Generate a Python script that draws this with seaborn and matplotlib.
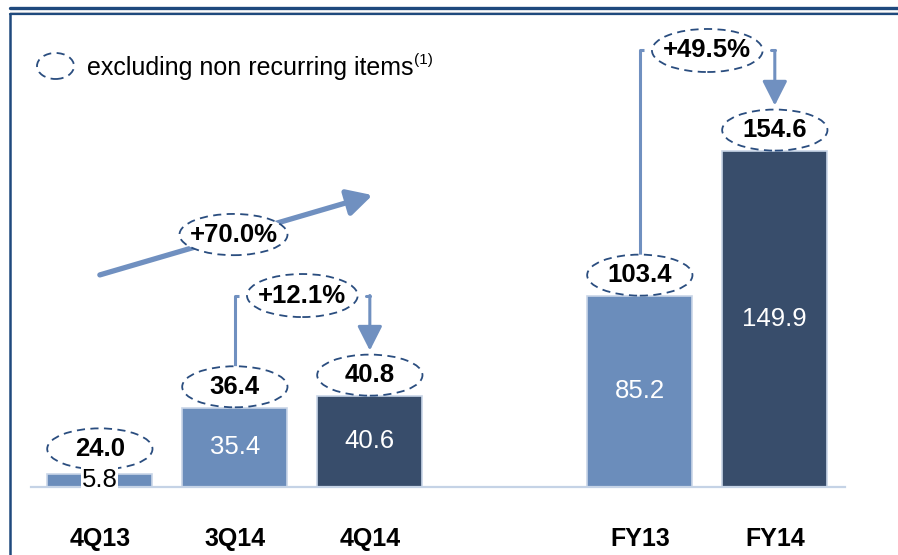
import numpy as np
import pandas as pd
import matplotlib
matplotlib.use('Agg')
import matplotlib.pyplot as plt
import seaborn as sns
from matplotlib.patches import Ellipse
from matplotlib.lines import Line2D

# données
periods    = ["4Q13", "3Q14", "4Q14", "FY13", "FY14"]
reported   = [5.8, 35.4, 40.6, 85.2, 149.9]
adjusted   = [24.0, 36.4, 40.8, 103.4, 154.6]
order      = ["4Q13", "3Q14", "4Q14", "", "FY13", "FY14"]
growth     = [("3Q14", "4Q14", "+12.1%"), ("FY13", "FY14", "+49.5%")]
cagr_label = "+70.0%"
legend_txt = "excluding non recurring items"

LIGHT, DARK = "#6B8DBB", "#384D6B"
NAVY  = "#1F497D"
DASH  = "#2A4D7F"
ARROW = "#7090C0"
palette = {"4Q13": LIGHT, "3Q14": LIGHT, "4Q14": DARK, "FY13": LIGHT, "FY14": DARK}
FS = 18.5

sns.set_style("white")
plt.rcParams['font.family'] = ['Liberation Sans', 'DejaVu Sans']
plt.rcParams['text.color'] = 'black'
plt.rcParams['xtick.color'] = 'black'

df = pd.DataFrame({"period": periods, "value": reported})

fig = plt.figure(figsize=(8.98, 5.55), dpi=100)
ax = fig.add_axes([31/898, 68/555, (845-31)/898, 467/555])

sns.barplot(data=df, x="period", y="value", hue="period", order=order,
            palette=palette, width=0.78, saturation=1, legend=False,
            edgecolor="#C9D6E8", linewidth=1.2, ax=ax)

ax.set_xlim(-0.51, 5.52)
ax.set_ylim(0, 208.3)
ax.set_xlabel(""); ax.set_ylabel("")
ax.set_yticks([])
for s in ("top", "left", "right"):
    ax.spines[s].set_visible(False)
ax.spines["bottom"].set_color("#C5D3E6")
ax.spines["bottom"].set_linewidth(1.6)
ax.tick_params(axis="x", length=0, pad=29, labelcolor="black")
for lab in ax.get_xticklabels():
    lab.set_fontweight("bold"); lab.set_fontsize(18)

pos = {p: order.index(p) for p in periods}
ell_w, ell_h = 0.78, 18.3
ell_y = {}

def dashed_ellipse(x, y, w=ell_w, h=ell_h):
    e = Ellipse((x, y), w, h, facecolor="white", edgecolor=DASH,
                lw=1.3, linestyle=(0, (4.5, 3)), zorder=5, clip_on=False)
    ax.add_patch(e)

for p, r, a in zip(periods, reported, adjusted):
    x = pos[p]
    # valeur publiée dans la barre
    if r < 10:
        ax.text(x, r/2 + 0.3, f"{r:.1f}", ha="center", va="center", fontsize=FS,
                color="black", zorder=6,
                bbox=dict(facecolor="white", edgecolor="none", pad=0.3))
    else:
        ax.text(x, r/2, f"{r:.1f}", ha="center", va="center", fontsize=FS,
                color="white", zorder=6)
    # valeur hors éléments non récurrents
    y = max(r + 9.3, 17)
    ell_y[p] = y
    dashed_ellipse(x, y)
    ax.text(x, y, f"{a:.1f}", ha="center", va="center", fontsize=FS,
            fontweight="bold", zorder=7)

# flèches de croissance
hook = 0.03
for left, right, lab in growth:
    xl, xr = pos[left], pos[right]
    gy = ell_y[right] + 35.5
    ax.plot([xl, xl, xl + hook], [ell_y[left] + ell_h/2, gy, gy],
            color=ARROW, lw=2.2, zorder=3, solid_capstyle="butt")
    ax.plot([xr - hook, xr], [gy, gy], color=ARROW, lw=2.2, zorder=3)
    ax.annotate("", xy=(xr, ell_y[right] + ell_h/2 + 1.8), xytext=(xr, gy),
                arrowprops=dict(arrowstyle="-|>,head_length=0.75,head_width=0.38",
                                color=ARROW, lw=2.2, shrinkA=0, shrinkB=0,
                                mutation_scale=20), zorder=3)
    dashed_ellipse((xl + xr)/2, gy, w=0.82, h=19.2)
    ax.text((xl + xr)/2, gy, lab, ha="center", va="center", fontsize=FS,
            fontweight="bold", zorder=7)

# flèche +70%
ax.annotate("", xy=(2.02, 130.2), xytext=(0.0, 94.6),
            arrowprops=dict(arrowstyle="-|>,head_length=0.6,head_width=0.32",
                            color=ARROW, lw=3.8, shrinkA=0, shrinkB=0,
                            mutation_scale=25), zorder=3)
dashed_ellipse(0.99, 112.6, w=0.8, h=18.4)
ax.text(0.99, 112.6, cagr_label, ha="center", va="center", fontsize=FS,
        fontweight="bold", zorder=7)

# légende
fig.patches.append(Ellipse((55.5/898, 1 - 66/555), 37/898, 26/555,
                           transform=fig.transFigure, facecolor="white",
                           edgecolor=DASH, lw=1.3, linestyle=(0, (4.5, 3))))
t = fig.text(87/898, 1 - 68/555, legend_txt, ha="left", va="center", fontsize=18)
fig.canvas.draw()
bb = t.get_window_extent()
fig.text(bb.x1/898 + 1/898, 1 - 60/555, "(1)", ha="left", va="center", fontsize=11)

# cadre
fig.add_artist(Line2D([10/898, 1], [1 - 7.5/555]*2, color=NAVY, lw=2.4,
                      transform=fig.transFigure))
fig.add_artist(Line2D([10/898, 1], [1 - 12/555]*2, color="#C8CCD4", lw=0.8,
                      transform=fig.transFigure))
fig.add_artist(Line2D([10/898, 1], [1 - 14/555]*2, color=NAVY, lw=1.6,
                      transform=fig.transFigure))
fig.add_artist(Line2D([10/898, 10/898], [0, 1 - 13.5/555], color=NAVY, lw=1.8,
                      transform=fig.transFigure))

fig.savefig("out.png", dpi=100)
